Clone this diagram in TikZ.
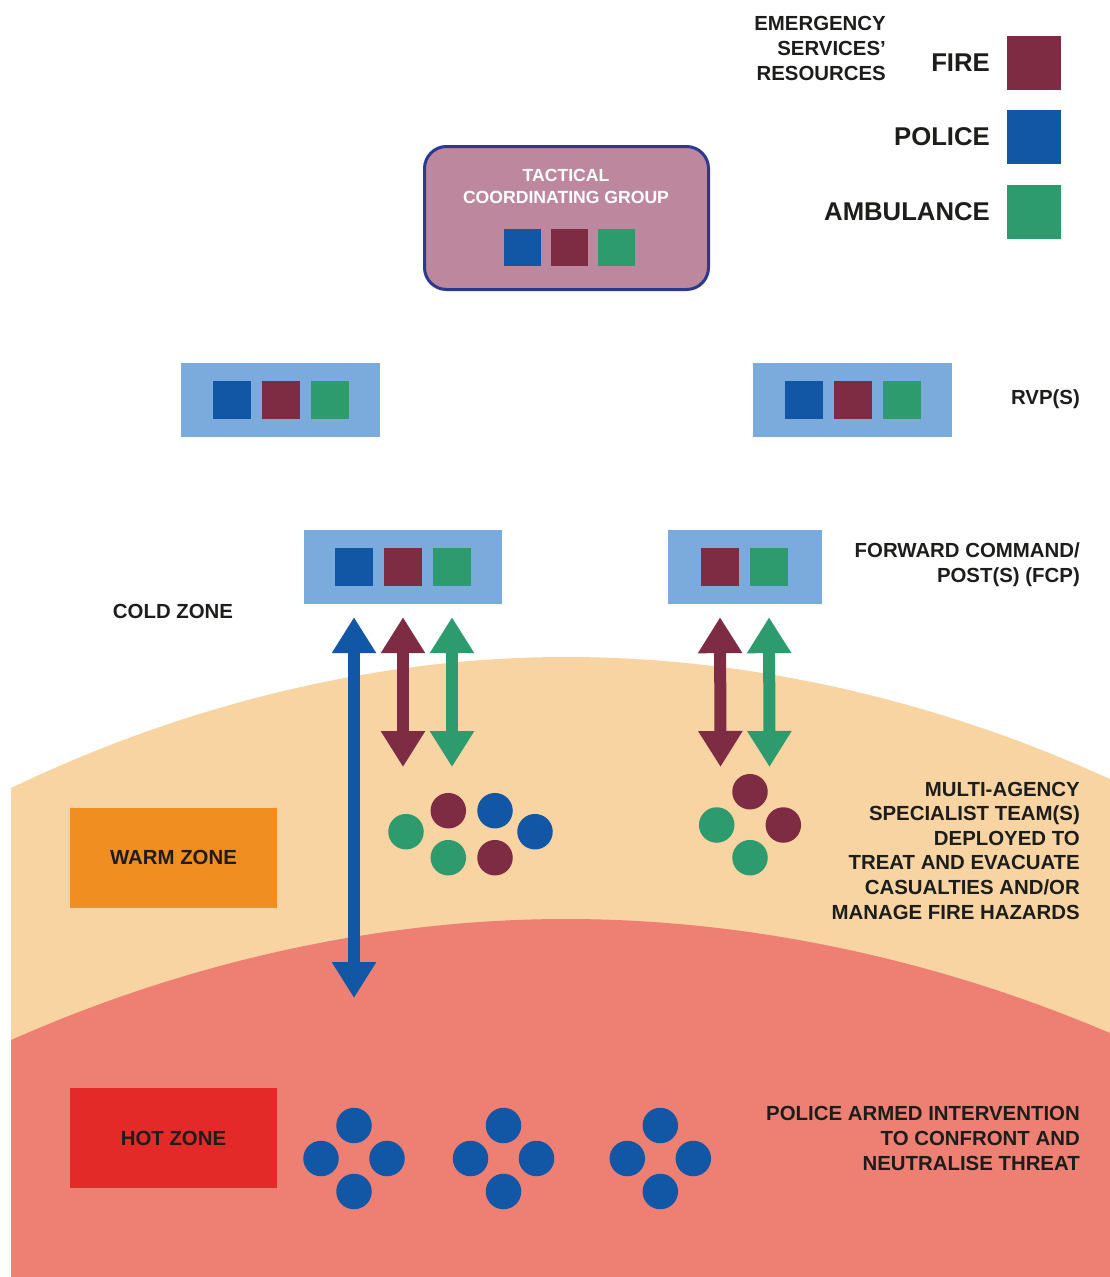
\documentclass[tikz,border=0pt]{standalone}
\usepackage{fontspec}
\setmainfont{Liberation Sans}
\usetikzlibrary{arrows.meta, positioning}

\definecolor{fireRed}{HTML}{7E2C44}
\definecolor{policeBlue}{HTML}{1256A6}
\definecolor{ambGreen}{HTML}{2E9B6F}
\definecolor{postBlue}{HTML}{7BABDC}
\definecolor{tcgPink}{HTML}{BD889D}
\definecolor{tcgNavy}{HTML}{2B3A8F}
\definecolor{warmFill}{HTML}{F8D4A2}
\definecolor{hotFill}{HTML}{EE7F73}
\definecolor{warmBox}{HTML}{F18E22}
\definecolor{hotBox}{HTML}{E42A28}
\definecolor{inkDark}{HTML}{1D1D1B}

\tikzset{
    x=1pt, y=-1pt, % one unit is one pixel of the sketch, y runs down
    lbl/.style={inner sep=0pt, text=inkDark, font=\bfseries\fontsize{20.4}{24.6}\selectfont}, % plain black caption
    bigLbl/.style={lbl, font=\bfseries\fontsize{25.7}{30}\selectfont},
    res/.style={inner sep=0pt, outer sep=0pt, minimum size=38pt}, % one resource square
    fire/.style={res, fill=fireRed},
    police/.style={res, fill=policeBlue},
    amb/.style={res, fill=ambGreen},
    legendSq/.style={minimum width=54pt, minimum height=54pt},
    postBox/.style={fill=postBlue, inner sep=0pt, minimum height=74pt}, % RVP and FCP boxes
    team/.style={circle, inner sep=0pt, minimum size=35.5pt}, % deployed team member
    zoneLbl/.style={lbl, minimum width=207pt, minimum height=100pt},
    twoWay/.style={line width=12pt, {Triangle[width=42pt,length=36pt]}-{Triangle[width=42pt,length=36pt]}},
}

\begin{document}
\begin{tikzpicture}
    \useasboundingbox[fill=white] (0,0) rectangle (1110,1277);
    % zones
    \fill[warmFill] (11,788) parabola bend (566,657) (1110,779) -- (1110,1277) -- (11,1277) -- cycle;
    \fill[hotFill] (11,1040) parabola bend (566,919) (1110,1033) -- (1110,1277) -- (11,1277) -- cycle;

    % legend
    \node[lbl, align=right, anchor=east] (esr) at (886,48.5) {EMERGENCY\\SERVICES’\\RESOURCES};
    \node[fire, legendSq] (legFire) at (1034,62.5) {};
    \node[police, legendSq, below=20.5pt of legFire] (legPolice) {};
    \node[amb, legendSq, below=20.5pt of legPolice] (legAmb) {};
    \node[bigLbl, left=17pt of legFire] (legFireTxt) {FIRE};
    \node[bigLbl, left=17pt of legPolice] (legPoliceTxt) {POLICE};
    \node[bigLbl, left=17pt of legAmb] (legAmbTxt) {AMBULANCE};

    % tactical coordinating group
    \node[draw=tcgNavy, line width=3pt, fill=tcgPink, rounded corners=22pt,
          minimum width=284pt, minimum height=143pt] (tcg) at (566.5,218) {};
    \node[lbl, text=white, align=center, font=\bfseries\fontsize{17.6}{22}\selectfont] (tcgTxt) at (566,186) {TACTICAL\\COORDINATING GROUP};
    \node[fire, minimum size=37pt] (tcgFire) at (569.5,247.5) {};
    \node[police, minimum size=37pt, left=10pt of tcgFire] (tcgPol) {};
    \node[amb, minimum size=37pt, right=10pt of tcgFire] (tcgAmb) {};

    % rendezvous points
    \node[postBox, minimum width=199pt] (rvpL) at (280.5,400) {};
    \node[fire] (rvpLfire) at (rvpL) {};
    \node[police, left=11pt of rvpLfire] (rvpLpol) {};
    \node[amb, right=11pt of rvpLfire] (rvpLamb) {};
    \node[postBox, minimum width=199pt] (rvpR) at (852.5,400) {};
    \node[fire] (rvpRfire) at (rvpR) {};
    \node[police, left=11pt of rvpRfire] (rvpRpol) {};
    \node[amb, right=11pt of rvpRfire] (rvpRamb) {};
    \node[lbl, anchor=east] (rvpTxt) at (1080,399) {RVP(S)};

    % forward command posts
    \node[postBox, minimum width=198pt] (fcpL) at (403,566.5) {};
    \node[fire] (fcpLfire) at (fcpL) {};
    \node[police, left=11pt of fcpLfire] (fcpLpol) {};
    \node[amb, right=11pt of fcpLfire] (fcpLamb) {};
    \node[postBox, minimum width=154pt] (fcpR) at (744.5,566.5) {};
    \node[fire] (fcpRfire) at ([xshift=-24.5pt]fcpR) {};
    \node[amb, right=11pt of fcpRfire] (fcpRamb) {};
    \node[lbl, align=right, anchor=east] (fcpTxt) at (1080,564.5) {FORWARD COMMAND/\\POST(S) (FCP)};
    \node[lbl] (coldTxt) at (173,611) {COLD ZONE};

    % zone labels
    \node[zoneLbl, fill=warmBox] (warmLbl) at (173.5,857.7) {WARM ZONE};
    \node[zoneLbl, fill=hotBox] (hotLbl) at (173.5,1138) {HOT ZONE};

    % links from the posts
    \coordinate (polEnd) at (354,998);
    \coordinate (fireEndL) at (403,767);
    \coordinate (ambEndL) at (452,767);
    \coordinate (fireEndR) at (720.5,767);
    \coordinate (ambEndR) at (769.5,767);
    \draw[twoWay, policeBlue, shorten <=13.5pt] (fcpLpol |- fcpL.south) -- (polEnd);
    \draw[twoWay, fireRed, shorten <=13.5pt] (fcpLfire |- fcpL.south) -- (fireEndL);
    \draw[twoWay, ambGreen, shorten <=13.5pt] (fcpLamb |- fcpL.south) -- (ambEndL);
    \draw[twoWay, fireRed, shorten <=13.5pt] (fcpRfire |- fcpR.south) -- (fireEndR);
    \draw[twoWay, ambGreen, shorten <=13.5pt] (fcpRamb |- fcpR.south) -- (ambEndR);

    % teams in the warm zone
    \node[team, fill=ambGreen] (wL1) at (406,831.7) {};
    \node[team, fill=fireRed] (wL2) at (448.3,810.7) {};
    \node[team, fill=policeBlue] (wL3) at (495,810.7) {};
    \node[team, fill=policeBlue] (wL4) at (535,831.7) {};
    \node[team, fill=ambGreen] (wL5) at (448.3,857.7) {};
    \node[team, fill=fireRed] (wL6) at (495,857.7) {};
    \node[team, fill=fireRed] (wR1) at (750,791.7) {};
    \node[team, fill=ambGreen] (wR2) at (716.7,825) {};
    \node[team, fill=fireRed] (wR3) at (783.3,825) {};
    \node[team, fill=ambGreen] (wR4) at (750,857.7) {};
    \node[lbl, align=right, anchor=east] (teamTxt) at (1080,850.5) {MULTI-AGENCY\\SPECIALIST TEAM(S)\\DEPLOYED TO\\TREAT AND EVACUATE\\CASUALTIES AND/OR\\MANAGE FIRE HAZARDS};

    % armed police in the hot zone
    \coordinate (hot1) at (354,1158.5);
    \coordinate (hot2) at (503.5,1158.5);
    \coordinate (hot3) at (660.3,1158.5);
    \node[team, fill=policeBlue] (h1n) at ([yshift=33pt]hot1) {};
    \node[team, fill=policeBlue] (h1w) at ([xshift=-33pt]hot1) {};
    \node[team, fill=policeBlue] (h1e) at ([xshift=33pt]hot1) {};
    \node[team, fill=policeBlue] (h1s) at ([yshift=-33pt]hot1) {};
    \node[team, fill=policeBlue] (h2n) at ([yshift=33pt]hot2) {};
    \node[team, fill=policeBlue] (h2w) at ([xshift=-33pt]hot2) {};
    \node[team, fill=policeBlue] (h2e) at ([xshift=33pt]hot2) {};
    \node[team, fill=policeBlue] (h2s) at ([yshift=-33pt]hot2) {};
    \node[team, fill=policeBlue] (h3n) at ([yshift=33pt]hot3) {};
    \node[team, fill=policeBlue] (h3w) at ([xshift=-33pt]hot3) {};
    \node[team, fill=policeBlue] (h3e) at ([xshift=33pt]hot3) {};
    \node[team, fill=policeBlue] (h3s) at ([yshift=-33pt]hot3) {};
    \node[lbl, align=right, anchor=east] (armedTxt) at (1080,1138.5) {POLICE ARMED INTERVENTION\\TO CONFRONT AND\\NEUTRALISE THREAT};
\end{tikzpicture}
\end{document}
